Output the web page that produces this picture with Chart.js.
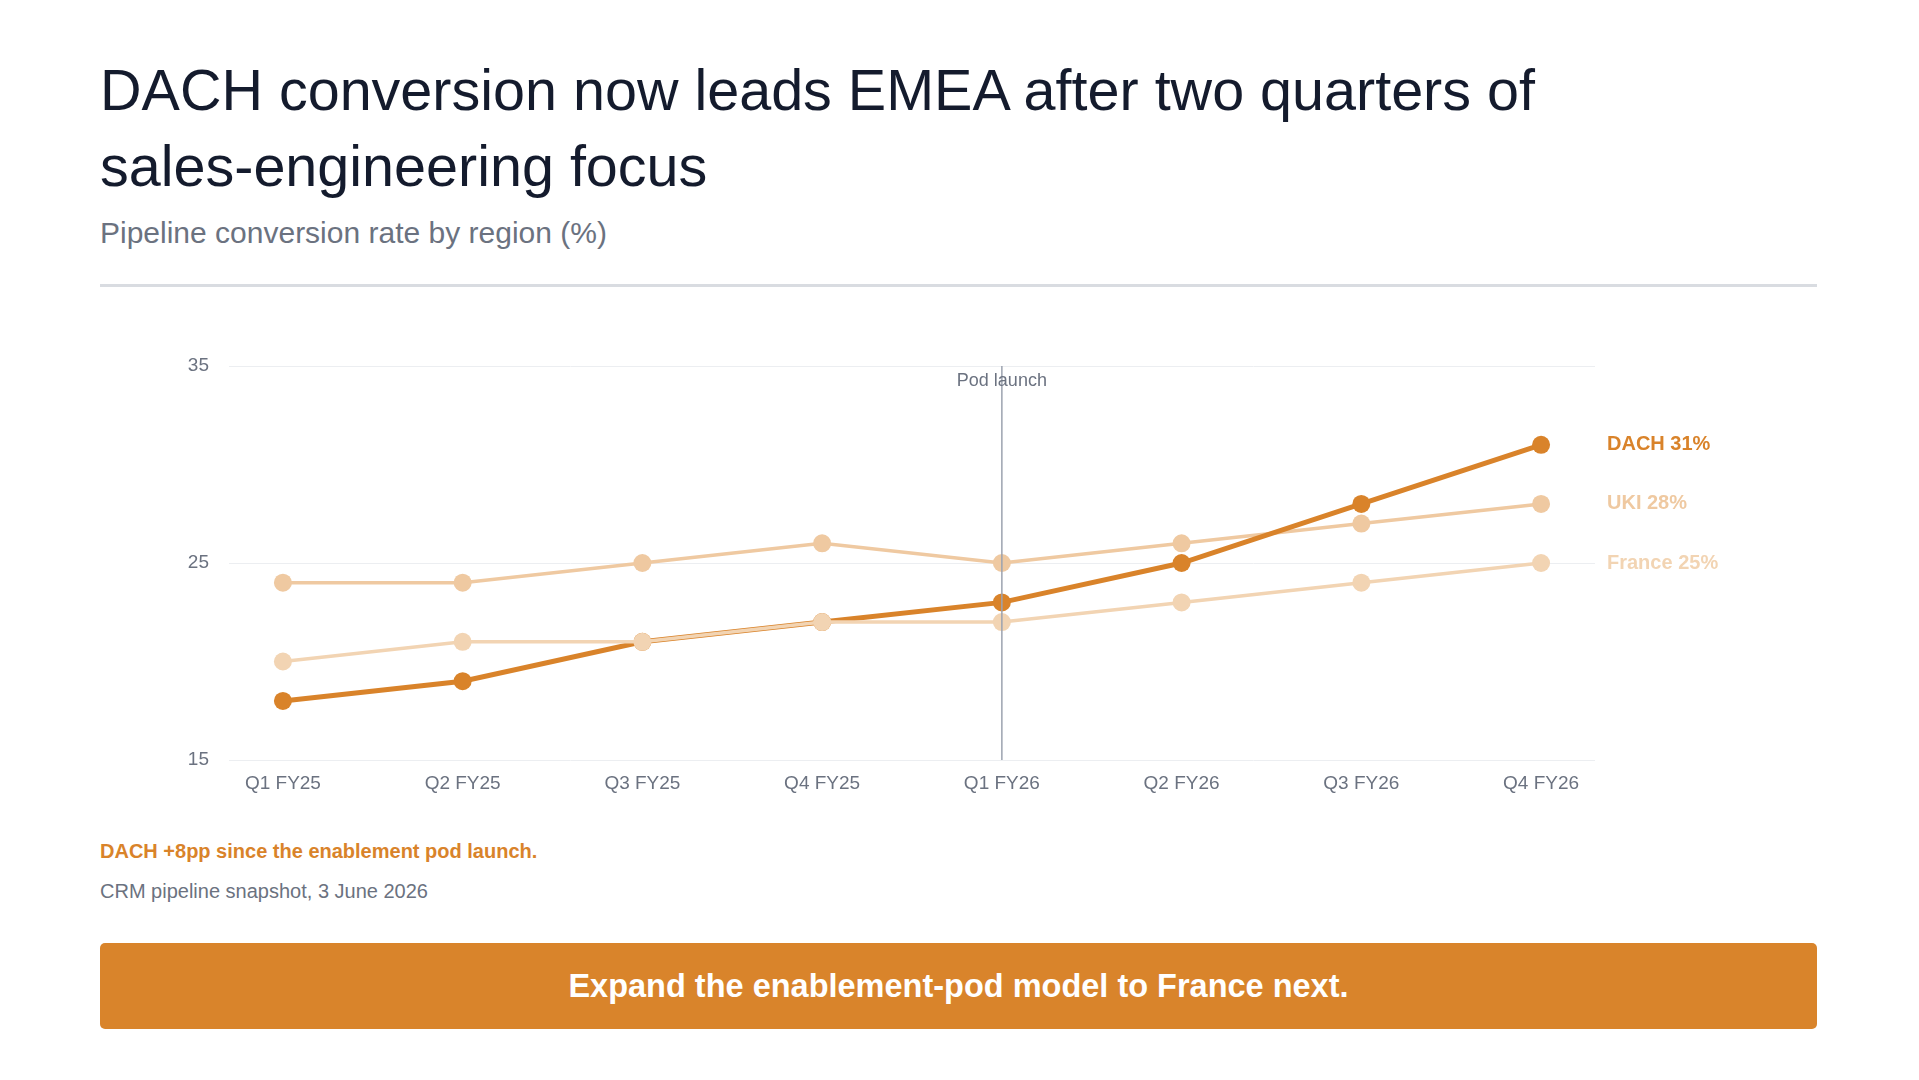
<!DOCTYPE html>
<html lang="en">

<head>
    <meta charset="UTF-8">
    <meta name="viewport" content="width=device-width, initial-scale=1.0">
    <script src="https://cdn.jsdelivr.net/npm/chart.js"></script>
    <title>DACH conversion</title>
    <style>
        body { margin: 0; background: #fff; font-family: "Liberation Sans", Arial, sans-serif; }
        .page { position: relative; width: 1919px; height: 1080px; }
        .title { position: absolute; left: 100px; top: 52px; width: 1500px; margin: 0;
            font-size: 57.5px; line-height: 76px; font-weight: 400; color: #141b2d; }
        .subtitle { position: absolute; left: 100px; top: 213px; font-size: 30px; line-height: 40px; color: #6b7280; }
        .rule { position: absolute; left: 100px; top: 284px; width: 1717px; height: 3px; background: #d9dce1; }
        .chart-box { position: absolute; left: 100px; top: 320px; width: 1717px; height: 480px; }
        .note { position: absolute; left: 100px; top: 839px; font-size: 20px; line-height: 24px; font-weight: 700; color: #d9832a; }
        .source { position: absolute; left: 100px; top: 879px; font-size: 20px; line-height: 24px; color: #6b7280; }
        .banner { position: absolute; left: 100px; top: 943px; width: 1717px; height: 86px; border-radius: 5px;
            background: #d9842b; color: #fff; font-size: 32.5px; font-weight: 700;
            display: flex; align-items: center; justify-content: center; }
    </style>
</head>

<body>
    <div class="page">
        <h1 class="title">DACH conversion now leads EMEA after two quarters of sales-engineering focus</h1>
        <div class="subtitle">Pipeline conversion rate by region (%)</div>
        <div class="rule"></div>
        <div class="chart-box"><canvas id="chart"></canvas></div>
        <div class="note">DACH +8pp since the enablement pod launch.</div>
        <div class="source">CRM pipeline snapshot, 3 June 2026</div>
        <div class="banner">Expand the enablement-pod model to France next.</div>
    </div>

    <script>
        const quarters = ['Q1 FY25', 'Q2 FY25', 'Q3 FY25', 'Q4 FY25', 'Q1 FY26', 'Q2 FY26', 'Q3 FY26', 'Q4 FY26'];
        const dach = [18, 19, 21, 22, 23, 25, 28, 31];
        const uki = [24, 24, 25, 26, 25, 26, 27, 28];
        const france = [20, 21, 21, 22, 22, 23, 24, 25];
        const yTicks = [15, 25, 35];
        const podLaunchIndex = 4;

        const FONT = '"Liberation Sans", Arial, sans-serif';
        const colors = { DACH: '#d9832a', UKI: '#efc9a1', France: '#f2d4b3' };

        function toPoints(values) {
            return values.map((v, i) => ({ x: i, y: v }));
        }

        function series(label, values, width) {
            return {
                label: label,
                data: toPoints(values),
                borderColor: colors[label],
                backgroundColor: colors[label],
                pointBackgroundColor: colors[label],
                borderWidth: width,
                pointRadius: 9,
                pointBorderWidth: 0,
                pointHoverRadius: 9,
                tension: 0,
                fill: false
            };
        }

        // end labels + pod launch marker
        const annotations = {
            id: 'annotations',
            afterDatasetsDraw(chart) {
                const { ctx, chartArea, scales } = chart;
                const x = scales.x.getPixelForValue(podLaunchIndex);
                ctx.save();
                ctx.strokeStyle = '#9ca3af';
                ctx.lineWidth = 1.5;
                ctx.beginPath();
                ctx.moveTo(x, chartArea.top);
                ctx.lineTo(x, chartArea.bottom);
                ctx.stroke();
                ctx.fillStyle = '#6b7280';
                ctx.font = '18px ' + FONT;
                ctx.textAlign = 'center';
                ctx.textBaseline = 'middle';
                ctx.fillText('Pod launch', x, chartArea.top + 15);

                ctx.font = 'bold 20px ' + FONT;
                ctx.textAlign = 'left';
                chart.data.datasets.forEach((ds, i) => {
                    const pts = chart.getDatasetMeta(i).data;
                    const last = pts[pts.length - 1];
                    const val = ds.data[ds.data.length - 1].y;
                    ctx.fillStyle = ds.borderColor;
                    ctx.fillText(ds.label + ' ' + val + '%', chartArea.right + 12, last.y);
                });
                ctx.restore();
            }
        };

        new Chart(document.getElementById('chart'), {
            type: 'line',
            data: {
                datasets: [
                    series('France', france, 3.5),
                    series('DACH', dach, 5),
                    series('UKI', uki, 3.5)
                ]
            },
            options: {
                responsive: true,
                maintainAspectRatio: false,
                animation: false,
                layout: { padding: { top: 46, right: 222, left: 0, bottom: 0 } },
                plugins: { legend: { display: false }, tooltip: { enabled: false } },
                scales: {
                    x: {
                        type: 'linear',
                        min: -0.3,
                        max: quarters.length - 0.7,
                        afterBuildTicks: (axis) => { axis.ticks = quarters.map((q, i) => ({ value: i })); },
                        afterFit: (axis) => { axis.height = 40; },
                        grid: { display: false },
                        border: { display: false },
                        ticks: {
                            autoSkip: false,
                            maxRotation: 0,
                            padding: 4,
                            color: '#6b7280',
                            font: { family: FONT, size: 19 },
                            callback: (v) => quarters[v]
                        }
                    },
                    y: {
                        min: 15,
                        max: 35,
                        afterBuildTicks: (axis) => { axis.ticks = yTicks.map(v => ({ value: v })); },
                        afterFit: (axis) => { axis.width = 129; },
                        grid: { color: '#eceef1', lineWidth: 1, drawTicks: false },
                        border: { display: false },
                        ticks: {
                            padding: 20,
                            color: '#6b7280',
                            font: { family: FONT, size: 19 }
                        }
                    }
                }
            },
            plugins: [annotations]
        });
    </script>
</body>

</html>
